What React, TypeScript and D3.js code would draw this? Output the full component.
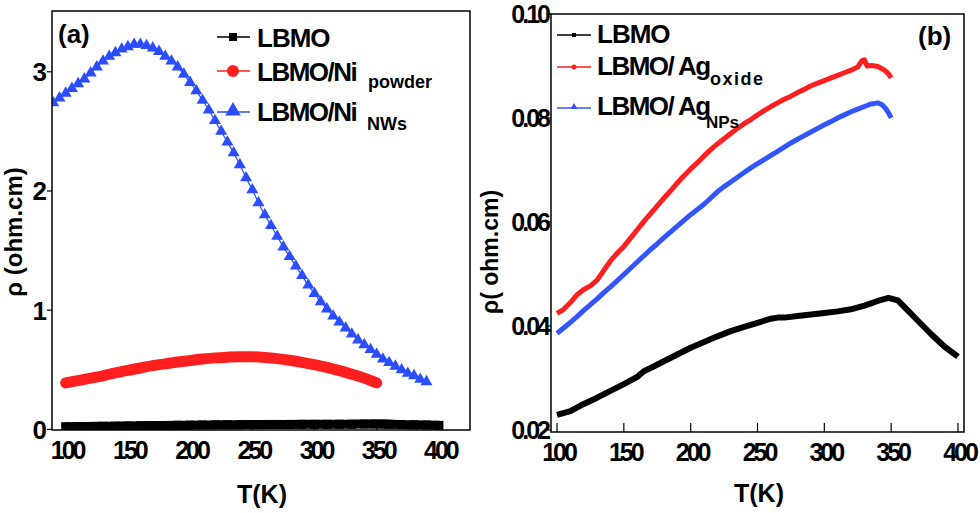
import React from "react";
import * as d3 from "d3";

// panel (a): LBMO / Ni composites
const tempNiNWs = [90, 95, 100, 105, 110, 115, 120, 125, 130, 135, 140, 145, 150, 155, 160, 165, 170, 175, 180, 185, 190, 195, 200, 205, 210, 215, 220, 225, 230, 235, 240, 245, 250, 255, 260, 265, 270, 275, 280, 285, 290, 295, 300, 305, 310, 315, 320, 325, 330, 335, 340, 345, 350, 355, 360, 365, 370, 375, 380, 385, 390];
const rhoNiNWs = [2.74, 2.78, 2.82, 2.86, 2.9, 2.94, 2.99, 3.04, 3.09, 3.13, 3.16, 3.19, 3.21, 3.23, 3.23, 3.22, 3.2, 3.17, 3.13, 3.09, 3.04, 2.98, 2.91, 2.84, 2.76, 2.68, 2.59, 2.5, 2.41, 2.32, 2.22, 2.11, 2.01, 1.9, 1.8, 1.71, 1.62, 1.53, 1.45, 1.37, 1.29, 1.21, 1.14, 1.07, 1.01, 0.95, 0.9, 0.85, 0.8, 0.75, 0.71, 0.67, 0.63, 0.59, 0.56, 0.53, 0.5, 0.47, 0.45, 0.42, 0.4];

const tempNiPowder = [100, 110, 120, 130, 140, 150, 160, 170, 180, 190, 200, 210, 220, 230, 240, 250, 260, 270, 280, 290, 300, 310, 320, 330, 340, 350];
const rhoNiPowder = [0.39, 0.41, 0.43, 0.45, 0.475, 0.495, 0.515, 0.535, 0.55, 0.565, 0.578, 0.59, 0.6, 0.606, 0.61, 0.609, 0.604, 0.594, 0.58, 0.563, 0.543, 0.52, 0.493, 0.463, 0.43, 0.39];

// LBMO, shared by both panels
const tempLBMO = [100, 110, 120, 130, 140, 150, 160, 165, 170, 180, 190, 200, 210, 220, 230, 240, 250, 260, 265, 270, 280, 290, 300, 310, 320, 330, 340, 348, 355, 360, 370, 380, 390, 400];
const rhoLBMO = [0.0229, 0.0236, 0.025, 0.0262, 0.0275, 0.0288, 0.0302, 0.0313, 0.0319, 0.0332, 0.0345, 0.0358, 0.0369, 0.038, 0.039, 0.0398, 0.0406, 0.0414, 0.0416, 0.0416, 0.0419, 0.0422, 0.0425, 0.0428, 0.0432, 0.0439, 0.0448, 0.0454, 0.0449, 0.0436, 0.041, 0.0384, 0.036, 0.0341];

// panel (b): LBMO / Ag composites
const tempAgOxide = [100, 105, 110, 115, 120, 125, 130, 135, 140, 145, 150, 155, 160, 165, 170, 175, 180, 185, 190, 195, 200, 205, 210, 215, 220, 225, 230, 235, 240, 245, 250, 255, 260, 265, 270, 275, 280, 285, 290, 295, 300, 305, 310, 315, 320, 325, 328, 330, 332, 335, 340, 345, 348, 350];
const rhoAgOxide = [0.0424, 0.0432, 0.0445, 0.046, 0.047, 0.0477, 0.0488, 0.0507, 0.0525, 0.054, 0.0553, 0.0569, 0.0585, 0.0601, 0.0616, 0.0631, 0.0646, 0.066, 0.0675, 0.0689, 0.0702, 0.0714, 0.0727, 0.0739, 0.075, 0.076, 0.077, 0.078, 0.0789, 0.0797, 0.0806, 0.0814, 0.0822, 0.0829, 0.0836, 0.0842, 0.0849, 0.0855, 0.0862, 0.0867, 0.0872, 0.0877, 0.0882, 0.0887, 0.0892, 0.0898, 0.091, 0.0912, 0.09, 0.0901, 0.0899, 0.0892, 0.0885, 0.0877];

const tempAgNPs = [100, 105, 110, 115, 120, 125, 130, 135, 140, 145, 150, 155, 160, 165, 170, 175, 180, 185, 190, 195, 200, 205, 210, 215, 220, 225, 230, 235, 240, 245, 250, 255, 260, 265, 270, 275, 280, 285, 290, 295, 300, 305, 310, 315, 320, 325, 330, 335, 340, 343, 346, 348, 350];
const rhoAgNPs = [0.0386, 0.0396, 0.0407, 0.0418, 0.043, 0.0441, 0.0452, 0.0464, 0.0475, 0.0487, 0.0499, 0.0511, 0.0523, 0.0535, 0.0547, 0.0558, 0.057, 0.0581, 0.0592, 0.0603, 0.0614, 0.0624, 0.0634, 0.0646, 0.0658, 0.0668, 0.0677, 0.0686, 0.0695, 0.0704, 0.0712, 0.072, 0.0728, 0.0736, 0.0744, 0.0752, 0.0759, 0.0766, 0.0773, 0.078, 0.0787, 0.0793, 0.08, 0.0806, 0.0812, 0.0817, 0.0822, 0.0827, 0.0829, 0.0826, 0.0818, 0.081, 0.08];

const xTicks = [100, 150, 200, 250, 300, 350, 400];
const yTicksA = [0, 1, 2, 3];
const yTicksB = [0.02, 0.04, 0.06, 0.08, 0.1];

const FONT = "'Liberation Sans', Arial, Helvetica, sans-serif";
const BLUE = "#2a4dff";
const RED = "#ff1f1f";

const zip = (ts: number[], vs: number[]) => ts.map((t, i) => [t, vs[i]] as [number, number]);

function PanelA() {
  const x = d3.scaleLinear().domain([89, 425]).range([52, 470]);
  const y = d3.scaleLinear().domain([-0.005, 3.51]).range([430, 11]);
  const line = d3.line<[number, number]>().x(d => x(d[0])).y(d => y(d[1])).curve(d3.curveMonotoneX);
  const tri = d3.symbol().type(d3.symbolTriangle).size(62)();
  const sq = d3.symbol().type(d3.symbolSquare).size(81)();
  const nws = zip(tempNiNWs, rhoNiNWs);
  const powder = zip(tempNiPowder, rhoNiPowder);
  const lbmo = zip(tempLBMO, rhoLBMO);

  return (
    <g>
      <clipPath id="clipA">
        <rect x={52} y={11} width={418} height={419} />
      </clipPath>
      <g clipPath="url(#clipA)">
        <path d={line(lbmo) || ""} fill="none" stroke="#000" strokeWidth={9} />
        {lbmo.map((d, i) => (
          <path key={i} d={sq || ""} transform={`translate(${x(d[0])},${y(d[1])})`} fill="#000" />
        ))}
        <path d={line(powder) || ""} fill="none" stroke={RED} strokeWidth={11} strokeLinecap="round" />
        <path d={line(nws) || ""} fill="none" stroke={BLUE} strokeWidth={1.2} />
        {nws.map((d, i) => (
          <path key={i} d={tri || ""} transform={`translate(${x(d[0])},${y(d[1])})`} fill={BLUE} />
        ))}
      </g>
      <rect x={52} y={11} width={418} height={419} fill="none" stroke="#000" strokeWidth={1.5} />
      {xTicks.map(t => (
        <g key={t}>
          <line x1={x(t)} x2={x(t)} y1={430} y2={424} stroke="#000" strokeWidth={1.2} />
          <text x={x(t) + 1.5} y={459} textAnchor="middle" fontSize={25} letterSpacing={-3}>{t}</text>
        </g>
      ))}
      {yTicksA.map(t => (
        <g key={t}>
          <line x1={47} x2={52} y1={y(t)} y2={y(t)} stroke="#000" strokeWidth={1.2} />
          <text x={47} y={y(t)} dy="0.36em" textAnchor="end" fontSize={26}>{t}</text>
        </g>
      ))}
      <text x={262} y={503} textAnchor="middle" fontSize={25}>T(K)</text>
      <text transform="translate(22,232) rotate(-90)" textAnchor="middle" fontSize={24}>ρ (ohm.cm)</text>
      <text x={58} y={43} fontSize={26}>(a)</text>

      {/* legend */}
      <line x1={217} x2={250} y1={37} y2={37} stroke="#000" strokeWidth={1.5} />
      <rect x={229} y={33} width={8} height={8} fill="#000" />
      <text x={257} y={46.5} fontSize={26} letterSpacing={-1}>LBMO</text>
      <line x1={217} x2={250} y1={71} y2={71} stroke={RED} strokeWidth={1.5} />
      <circle cx={233} cy={71} r={6} fill={RED} />
      <text x={257} y={80.5} fontSize={26} letterSpacing={-1.5}>LBMO/Ni</text>
      <text x={368} y={88} fontSize={18}>powder</text>
      <line x1={217} x2={250} y1={112} y2={112} stroke={BLUE} strokeWidth={1.5} />
      <path d={tri || ""} transform="translate(233,111) scale(1.3)" fill={BLUE} />
      <text x={257} y={121} fontSize={26} letterSpacing={-1.5}>LBMO/Ni</text>
      <text x={367} y={130} fontSize={18}>NWs</text>
    </g>
  );
}

function PanelB() {
  const x = d3.scaleLinear().domain([95.5, 404.5]).range([551, 964]);
  const y = d3.scaleLinear().domain([0.0196, 0.1]).range([432, 14]);
  const line = d3.line<[number, number]>().x(d => x(d[0])).y(d => y(d[1]));
  const fmt = d3.format(".2f");
  const tri = d3.symbol().type(d3.symbolTriangle).size(22)();

  return (
    <g>
      <path d={line(zip(tempLBMO, rhoLBMO)) || ""} fill="none" stroke="#000" strokeWidth={6} strokeLinejoin="round" />
      <path d={line(zip(tempAgOxide, rhoAgOxide)) || ""} fill="none" stroke={RED} strokeWidth={5} strokeLinejoin="round" />
      <path d={line(zip(tempAgNPs, rhoAgNPs)) || ""} fill="none" stroke="#3355ff" strokeWidth={5} strokeLinejoin="round" />
      <rect x={551} y={14} width={413} height={418} fill="none" stroke="#000" strokeWidth={1.5} />
      {xTicks.map(t => (
        <g key={t}>
          <line x1={x(t)} x2={x(t)} y1={432} y2={423} stroke="#000" strokeWidth={1.2} />
          <text x={x(t) + 1.5} y={461} textAnchor="middle" fontSize={25} letterSpacing={-3}>{t}</text>
        </g>
      ))}
      {yTicksB.map(t => (
        <g key={t}>
          <line x1={546} x2={551} y1={y(t)} y2={y(t)} stroke="#000" strokeWidth={1.2} />
          <text x={548} y={y(t)} dy="0.36em" textAnchor="end" fontSize={25} letterSpacing={-3}>{fmt(t)}</text>
        </g>
      ))}
      <text x={759} y={502} textAnchor="middle" fontSize={25}>T(K)</text>
      <text transform="translate(498,252) rotate(-90)" textAnchor="middle" fontSize={23}>ρ( ohm.cm)</text>
      <text x={918} y={45} fontSize={26}>(b)</text>

      {/* legend */}
      <line x1={557} x2={591} y1={35} y2={35} stroke="#000" strokeWidth={1.5} />
      <rect x={572} y={33} width={4} height={4} fill="#000" />
      <text x={597} y={43} fontSize={26} letterSpacing={-1}>LBMO</text>
      <line x1={557} x2={591} y1={67} y2={67} stroke={RED} strokeWidth={1.5} />
      <circle cx={574} cy={67} r={2.5} fill={RED} />
      <text x={597} y={75} fontSize={26} letterSpacing={-1.5}>LBMO/ Ag</text>
      <text x={710} y={85} fontSize={18} letterSpacing={1.5}>oxide</text>
      <line x1={557} x2={591} y1={108} y2={108} stroke="#3355ff" strokeWidth={1.5} />
      <path d={tri || ""} transform="translate(574,107)" fill="#3355ff" />
      <text x={597} y={115} fontSize={26} letterSpacing={-1.5}>LBMO/ Ag</text>
      <text x={706} y={128} fontSize={17}>NPs</text>
    </g>
  );
}

export default function App() {
  return (
    <svg
      width={980}
      height={513}
      style={{ position: "absolute", left: 0, top: 0, background: "#fff" }}
      fontFamily={FONT}
      fontWeight="bold"
    >
      <PanelA />
      <PanelB />
    </svg>
  );
}
